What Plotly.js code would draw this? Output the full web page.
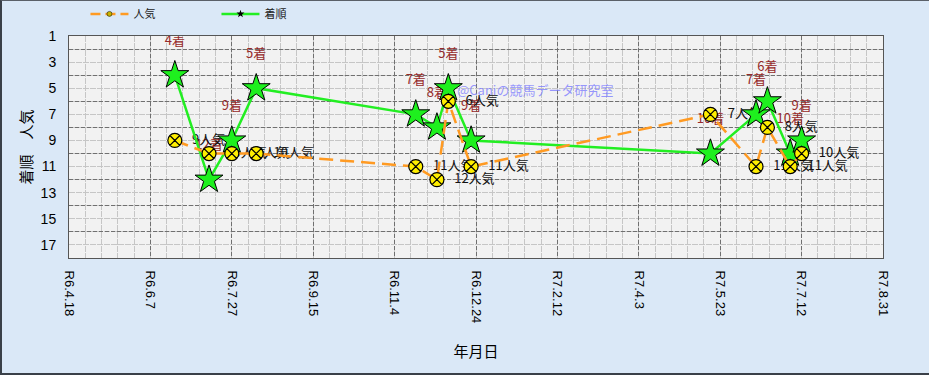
<!DOCTYPE html>
<html>
<head>
<meta charset="utf-8">
<script src="https://cdn.plot.ly/plotly-3.0.1.min.js"></script>
<style>
html,body{margin:0;padding:0;background:#dae8f7;}
#wrap{position:relative;width:929px;height:375px;}
#chart{width:929px;height:375px;}
#frame{position:absolute;left:0;top:0;width:929px;height:375px;box-sizing:border-box;
  border-left:2px solid #3a4048;border-top:1px solid #5a6068;border-bottom:2px solid #3a4048;pointer-events:none;}
</style>
</head>
<body>
<div id="wrap"><div id="chart"></div><div id="frame"></div></div>
<script>
// ---- data ----
const raceDates = ['2024-06-22','2024-07-13','2024-07-27','2024-08-11','2024-11-17','2024-11-30','2024-12-07','2024-12-21','2025-05-17','2025-06-14','2025-06-21','2025-07-05','2025-07-12'];
const finishPos = [4,12,9,5,7,8,5,9,10,7,6,10,9];
const popularity = [9,10,10,10,11,12,6,11,7,11,8,11,10];
const xTickVals = ['2024-04-18','2024-06-07','2024-07-27','2024-09-15','2024-11-04','2024-12-24','2025-02-12','2025-04-03','2025-05-23','2025-07-12','2025-08-31'];
const xTickText = ['R6.4.18','R6.6.7','R6.7.27','R6.9.15','R6.11.4','R6.12.24','R7.2.12','R7.4.3','R7.5.23','R7.7.12','R7.8.31'];
const yTickVals = [1,3,5,7,9,11,13,15,17];
const yGridVals = [2,4,6,8,10,12,14,16];
const seriesNames = ['人気','着順'];
const finishSuffix = '着';
const popSuffix = '人気';
const watermark = '@Caniの競馬データ研究室';

const FONT = 'Liberation Sans, Arial, Noto Sans CJK JP, sans-serif';
const JFONT = 'Noto Sans CJK JP, Liberation Sans, sans-serif';
const GREEN = '#22ee22';
const ORANGE = '#ff9a22';

const traces = [
  // dummy to activate the even-value dashed grid axis
  {x: [null], y: [null], yaxis: 'y2', showlegend: false, hoverinfo: 'skip', mode: 'markers'},
  // finish labels (drawn under markers)
  {x: raceDates, y: finishPos, mode: 'markers+text', text: finishPos.map(v => v + finishSuffix),
   textposition: 'top center', textfont: {family: JFONT, size: 13, color: '#962a2a'},
   marker: {size: 42, opacity: 0}, showlegend: false, hoverinfo: 'skip'},
  // popularity labels
  {x: raceDates, y: popularity, mode: 'markers+text', text: popularity.map(v => v + popSuffix),
   textposition: 'middle right', textfont: {family: JFONT, size: 13, color: '#111'},
   marker: {size: 26, opacity: 0}, showlegend: false, hoverinfo: 'skip'},
  // 着順
  {x: raceDates, y: finishPos, mode: 'lines+markers', name: seriesNames[1], showlegend: false,
   line: {color: GREEN, width: 2.5},
   marker: {symbol: 'star', size: 21, color: '#1ef01e', line: {color: '#000', width: 1}}},
  // 人気
  {x: raceDates, y: popularity, mode: 'lines+markers', name: seriesNames[0], showlegend: false,
   line: {color: ORANGE, width: 2.5, dash: '14px,7px'},
   marker: {symbol: 'circle-x', size: 14, color: '#ffee00', line: {color: '#000', width: 1.2}}},
  // legend entries
  {x: [null], y: [null], mode: 'lines+markers', name: seriesNames[0],
   line: {color: ORANGE, width: 2.5, dash: '10px,5px'},
   marker: {symbol: 'circle', size: 5, color: '#c8b400', line: {color: '#000', width: 0.5}}},
  {x: [null], y: [null], mode: 'lines+markers', name: seriesNames[1],
   line: {color: GREEN, width: 2.5},
   marker: {symbol: 'star', size: 6, color: '#000'}}
];

const layout = {
  width: 929, height: 375,
  margin: {l: 69, r: 46, t: 36, b: 117, autoexpand: false},
  paper_bgcolor: '#dae8f7',
  plot_bgcolor: '#f2f2f2',
  font: {family: FONT, color: '#000'},
  showlegend: true,
  legend: {orientation: 'h', xref: 'container', yref: 'container', x: 0.092, xanchor: 'left',
           y: 0.963, yanchor: 'middle',
           font: {family: JFONT, size: 11, color: '#222'}, bgcolor: 'rgba(0,0,0,0)',
           itemwidth: 38, entrywidth: 78, tracegroupgap: 0},
  xaxis: {
    type: 'date', range: [xTickVals[0], xTickVals[xTickVals.length - 1]],
    tickmode: 'array', tickvals: xTickVals, ticktext: xTickText, tickangle: 90,
    tickfont: {family: FONT, size: 13, color: '#000'},
    ticks: 'outside', ticklen: 9, tickcolor: 'rgba(0,0,0,0)',
    showgrid: true, gridcolor: '#707070', griddash: '4px,2px', gridwidth: 1,
    minor: {tick0: xTickVals[0], dtick: 10 * 86400000, showgrid: true, gridcolor: '#c6c6c6',
            griddash: '6px,1px', gridwidth: 1},
    showline: true, linecolor: '#555', linewidth: 1, mirror: true, zeroline: false,
    title: {text: '年月日', font: {family: JFONT, size: 15, color: '#000'}, standoff: 24}
  },
  yaxis: {
    range: [18, 1], tickmode: 'array', tickvals: yTickVals,
    tickfont: {family: FONT, size: 14, color: '#000'},
    ticks: 'outside', ticklen: 9, tickcolor: 'rgba(0,0,0,0)',
    showgrid: false,
    minor: {tick0: 1, dtick: 1, showgrid: true, gridcolor: '#c6c6c6', griddash: '6px,1px', gridwidth: 1},
    showline: true, linecolor: '#555', linewidth: 1, mirror: true, zeroline: false,
    title: {text: '着順　人気', font: {family: JFONT, size: 15, color: '#000'}, standoff: 4}
  },
  yaxis2: {
    overlaying: 'y', range: [18, 1], tickmode: 'array', tickvals: yGridVals,
    showticklabels: false, ticks: '', showgrid: true, gridcolor: '#707070', griddash: '4px,2px',
    gridwidth: 1, zeroline: false, showline: false
  },
  annotations: [
    {xref: 'paper', yref: 'paper', x: 0.5725, y: 0.757, xanchor: 'center', yanchor: 'middle',
     text: watermark, showarrow: false,
     font: {family: JFONT, size: 13, color: 'rgba(120,120,255,0.75)'}}
  ]
};

Plotly.newPlot('chart', traces, layout, {displayModeBar: false, staticPlot: true});
</script>
</body>
</html>
